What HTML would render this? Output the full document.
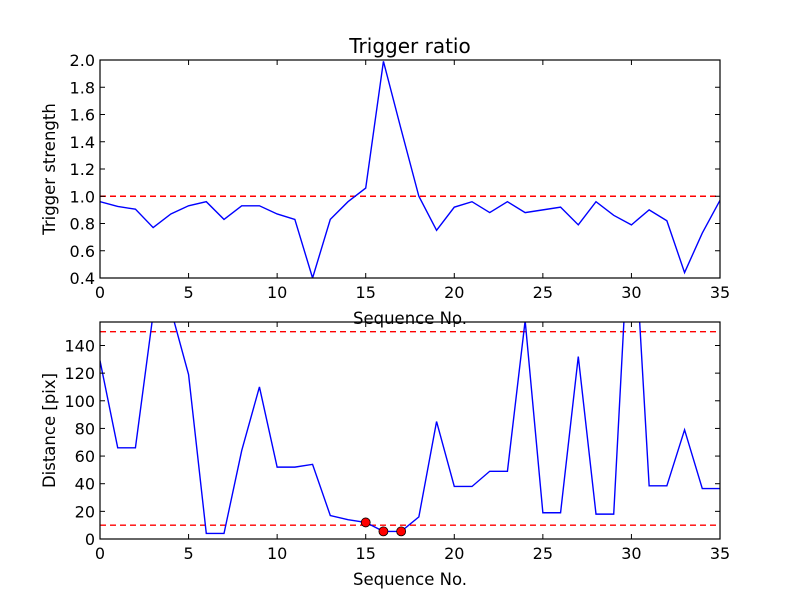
<!DOCTYPE html>
<html><head><meta charset="utf-8"><style>body{margin:0;background:#fff}svg{display:block;font-family:"DejaVu Sans","Liberation Sans",sans-serif}</style></head>
<body>
<svg id="c" width="800" height="600" viewBox="0 0 800 600"></svg>
<script>
const seq=[...Array(36).keys()];
const triggerStrength=[0.96,0.925,0.905,0.77,0.87,0.93,0.96,0.83,0.93,0.93,0.87,0.83,0.40,0.83,0.96,1.06,1.99,1.49,1.0,0.75,0.92,0.96,0.88,0.96,0.88,0.90,0.92,0.79,0.96,0.86,0.79,0.90,0.82,0.44,0.73,0.97];
const distance=[129,66,66,163,166,119,4,4,64,110,52,52,54,17,14,12,5.5,5.5,16,85,38,38,49,49,158,19,19,132,18,18,260,38.5,38.5,79,36.5,36.5];
const highlightIdx=[15,16,17];
const topYTicks=[0.4,0.6,0.8,1.0,1.2,1.4,1.6,1.8,2.0];
const botYTicks=[0,20,40,60,80,100,120,140];
const xTicks=[0,5,10,15,20,25,30,35];
const topThreshold=[1.0];
const botThresholds=[10,150];

const svg=document.getElementById('c');const NS='http://www.w3.org/2000/svg';
function mk(t,a,p){const e=document.createElementNS(NS,t);for(const k in a)e.setAttribute(k,a[k]);(p||svg).appendChild(e);return e;}
const L=100,R=720;
function panel(name,T,B,y0,y1,yticks,data,thr,fmt,ylabel,title){
  const sx=v=>L+(v-0)/35*(R-L), sy=v=>B-(v-y0)/(y1-y0)*(B-T);
  const g=mk('g',{});
  
  
  const cid='clip'+name;const cp=mk('clipPath',{id:cid},g);mk('rect',{x:L,y:T,width:R-L,height:B-T},cp);
  thr.forEach(t=>{const l=mk('line',{x1:L,x2:R,y1:sy(t),y2:sy(t),stroke:'#f00','stroke-width':1.4,'stroke-dasharray':'6,4','clip-path':`url(#${cid})`},g);
    
    });
  const p=mk('polyline',{points:data.map((v,i)=>sx(seq[i])+','+sy(v)).join(' '),fill:'none',stroke:'#00f','stroke-width':1.4,'clip-path':`url(#${cid})`},g);
  
  
  mk('rect',{x:L,y:T,width:R-L,height:B-T,fill:'none',stroke:'#000','stroke-width':1.2},g);
  xTicks.forEach(t=>{const x=sx(t);mk('line',{x1:x,x2:x,y1:B,y2:B-5,stroke:'#000'},g);mk('line',{x1:x,x2:x,y1:T,y2:T+5,stroke:'#000'},g);
    const tx=mk('text',{x:x,y:B+20,'text-anchor':'middle','font-size':16},g);tx.textContent=t;
    
    });
  yticks.forEach(t=>{const y=sy(t);mk('line',{x1:L,x2:L+5,y1:y,y2:y,stroke:'#000'},g);mk('line',{x1:R,x2:R-5,y1:y,y2:y,stroke:'#000'},g);
    const tx=mk('text',{x:L-5,y:y+6,'text-anchor':'end','font-size':16},g);tx.textContent=fmt(t);
    
    });
  const yl=mk('text',{x:0,y:0,transform:`translate(${L-45},${(T+B)/2}) rotate(-90)`,'text-anchor':'middle','font-size':16.5},g);yl.textContent=ylabel;
  
  
  const xl=mk('text',{x:(L+R)/2,y:B+46,'text-anchor':'middle','font-size':16.5},g);xl.textContent='Sequence No.';
  
  
  if(title){const tt=mk('text',{x:(L+R)/2,y:T-7,'text-anchor':'middle','font-size':20},g);tt.textContent=title;
    
    }
  return {sx,sy,g};
}
const topPanel=panel('top',60,278,0.4,2.0,topYTicks,triggerStrength,topThreshold,v=>v.toFixed(1),'Trigger strength','Trigger ratio');
const botPanel=panel('bottom',322,539,0,157,botYTicks,distance,botThresholds,v=>String(v),'Distance [pix]',null);
highlightIdx.forEach(i=>{const c=mk('circle',{cx:botPanel.sx(seq[i]),cy:botPanel.sy(distance[i]),r:4.5,fill:'#f00',stroke:'#000','stroke-width':0.8},botPanel.g);
  
  });
</script>
</body></html>
